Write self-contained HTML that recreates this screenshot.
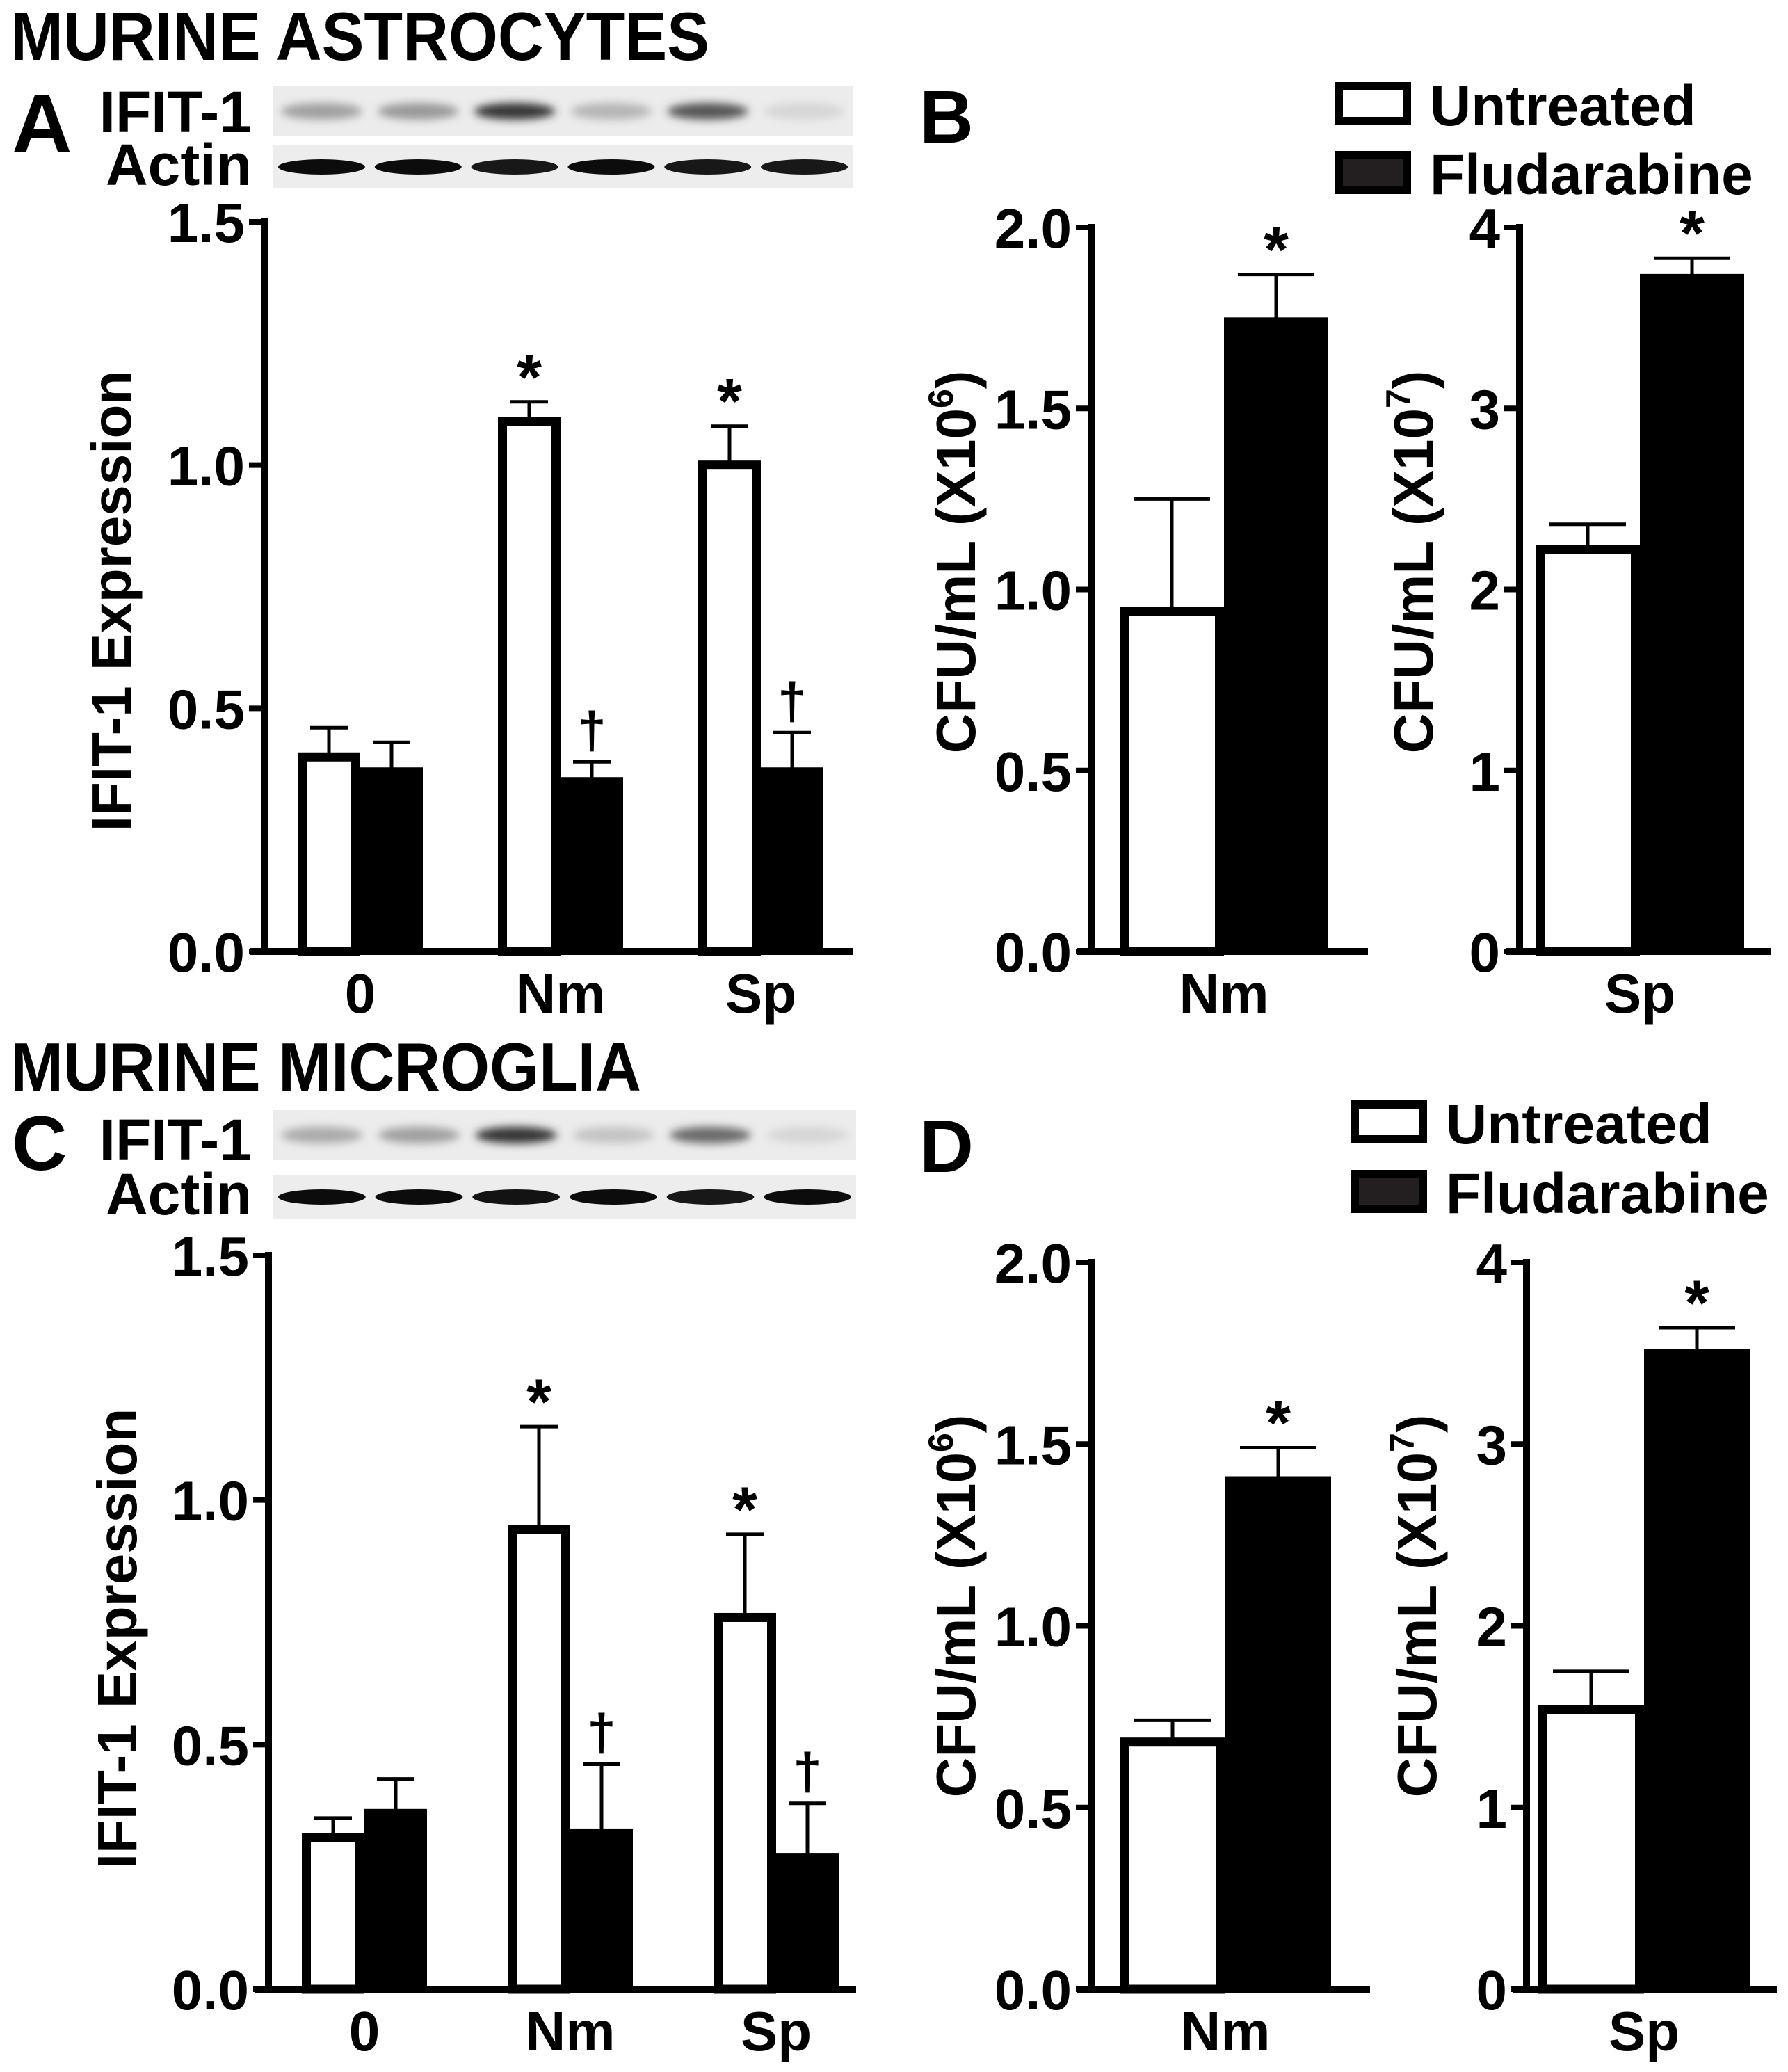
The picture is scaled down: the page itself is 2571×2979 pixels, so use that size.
<!DOCTYPE html>
<html><head><meta charset="utf-8"><style>
html,body{margin:0;padding:0;background:#fff}
svg{display:block}
text{font-family:"Liberation Sans",Arial,sans-serif;font-weight:bold;fill:#000}
</style></head><body>
<svg id="fig" xmlns="http://www.w3.org/2000/svg" width="2571" height="2979" viewBox="0 0 2571 2979">
<defs>
<filter id="blur" x="-20%" y="-50%" width="140%" height="200%"><feGaussianBlur stdDeviation="6"/></filter>
</defs>
<rect width="2571" height="2979" fill="#fff"/>
<text x="15" y="86" font-size="98" textLength="1005" lengthAdjust="spacingAndGlyphs" fill="#222">MURINE ASTROCYTES</text>
<text x="17" y="219" font-size="120">A</text>
<text x="1322" y="205" font-size="108">B</text>
<text x="15" y="1568" font-size="98" textLength="907" lengthAdjust="spacingAndGlyphs" fill="#222">MURINE MICROGLIA</text>
<text x="17" y="1682" font-size="110">C</text>
<text x="1322" y="1685" font-size="108">D</text>
<g id="layer"></g>
</svg>
<script>
// ---- Panel A data ----
const aCategories = ['0','Nm','Sp'];
const aUntreated = [0.40, 1.09, 1.00];
const aUntreatedErr = [0.06, 0.04, 0.08];
const aFludarabine = [0.37, 0.35, 0.37];
const aFludarabineErr = [0.06, 0.04, 0.08];
const aMarksUntreated = ['', '*', '*'];
const aMarksFludarabine = ['', '†', '†'];
// ---- Panel C data ----
const cCategories = ['0','Nm','Sp'];
const cUntreated = [0.31, 0.94, 0.76];
const cUntreatedErr = [0.04, 0.21, 0.17];
const cFludarabine = [0.36, 0.32, 0.27];
const cFludarabineErr = [0.07, 0.14, 0.11];
const cMarksUntreated = ['', '*', '*'];
const cMarksFludarabine = ['', '†', '†'];
// ---- Panel B data ----
const b1Categories = ['Nm'];
const b1Untreated = [0.94]; const b1UntreatedErr = [0.31];
const b1Fludarabine = [1.74]; const b1FludarabineErr = [0.13];
const b2Categories = ['Sp'];
const b2Untreated = [2.22]; const b2UntreatedErr = [0.14];
const b2Fludarabine = [3.72]; const b2FludarabineErr = [0.11];
// ---- Panel D data ----
const d1Categories = ['Nm'];
const d1Untreated = [0.68]; const d1UntreatedErr = [0.06];
const d1Fludarabine = [1.40]; const d1FludarabineErr = [0.09];
const d2Categories = ['Sp'];
const d2Untreated = [1.54]; const d2UntreatedErr = [0.21];
const d2Fludarabine = [3.50]; const d2FludarabineErr = [0.14];
const singleMarksU = [''];
const singleMarksF = ['*'];
// ---- ticks ----
const exprTicks = [0, 0.5, 1.0, 1.5];
const exprTickLabels = ['0.0','0.5','1.0','1.5'];
const cfu6Ticks = [0, 0.5, 1.0, 1.5, 2.0];
const cfu6TickLabels = ['0.0','0.5','1.0','1.5','2.0'];
const cfu7Ticks = [0, 1, 2, 3, 4];
const cfu7TickLabels = ['0','1','2','3','4'];
// ---- blot intensities ----
const blotIfitTop = [0.35, 0.38, 0.85, 0.25, 0.7, 0.1];
const blotActinTop = [0.95, 0.95, 0.9, 0.95, 0.9, 0.9];
const blotIfitBottom = [0.3, 0.35, 0.85, 0.18, 0.6, 0.1];
const blotActinBottom = [0.95, 0.95, 0.92, 0.95, 0.9, 0.95];

const NS = 'http://www.w3.org/2000/svg';
const layer = document.getElementById('layer');
function mk(tag, attrs, parent) {
  const e = document.createElementNS(NS, tag);
  for (const k in attrs) e.setAttribute(k, attrs[k]);
  (parent || layer).appendChild(e);
  return e;
}

function chart(p) {
  const g = mk('g', {});
  
  
  const y = v => p.yBottom - (v / p.max) * (p.yBottom - p.yTop);
  const ya = mk('line', {x1:p.xAxis, y1:p.yTop - 5, x2:p.xAxis, y2:p.yBottom + 5, stroke:'#000', 'stroke-width':10}, g);
  
  
  const xa = mk('line', {x1:p.xAxis - 20, y1:p.yBottom, x2:p.xRight, y2:p.yBottom, stroke:'#000', 'stroke-width':10}, g);
  
  
  p.ticks.forEach((t, i) => {
    const ty = y(t);
    const tl = mk('line', {x1:p.xAxis - 22, y1:ty, x2:p.xAxis, y2:ty, stroke:'#000', 'stroke-width':8}, g);
    
    
    const tt = mk('text', {x:p.xAxis - 28, y:ty + 29, 'font-size':80, 'text-anchor':'end'}, g);
    
    
    tt.textContent = p.tickLabels[i];
  });
  const yt = mk('text', {x:0, y:0, 'font-size':80, 'text-anchor':'middle', transform:`translate(${p.titleX},${p.titleY}) rotate(-90)`}, g);
  
  
  if (p.sup) {
    yt.appendChild(document.createTextNode(p.title));
    const s = mk('tspan', {'font-size':50, dy:-32}, yt);
    s.textContent = p.sup;
    const c = mk('tspan', {dy:32}, yt);
    c.textContent = ')';
  } else yt.textContent = p.title;
  p.cats.forEach((cat, i) => {
    const cx = p.first + p.step * i;
    const bw = p.bw;
    const sw = 13;
    const uTop = y(p.u[i]);
    const ub = mk('rect', {x:cx - bw + sw / 2, y:uTop, width:bw - sw, height:p.yBottom - uTop, fill:'#fff', stroke:'#000', 'stroke-width':sw}, g);
    
    
    const fTop = y(p.f[i]);
    const fb = mk('rect', {x:cx, y:fTop - 6, width:bw, height:p.yBottom - fTop + 6, fill:'#000'}, g);
    
    
    [[cx - bw / 2, p.u[i], p.ue[i], p.mu[i], 'untreated'], [cx + bw / 2, p.f[i], p.fe[i], p.mf[i], 'fludarabine']].forEach(([ex, v, e, m, nm]) => {
      const top = y(v + e);
      const eg = mk('g', {}, g);
      
      
      mk('line', {x1:ex, y1:y(v), x2:ex, y2:top, stroke:'#000', 'stroke-width':5}, eg);
      mk('line', {x1:ex - p.cap / 2, y1:top, x2:ex + p.cap / 2, y2:top, stroke:'#000', 'stroke-width':5}, eg);
      if (m) {
        const mt = mk('text', {x:ex, y: m === '*' ? top - 4 : top - 20, 'font-size': m === '*' ? 92 : 74, 'text-anchor':'middle'}, g);
        
        
        mt.textContent = m;
      }
    });
    const xl = mk('text', {x:cx, y:p.yBottom + 88, 'font-size':80, 'text-anchor':'middle'}, g);
    
    
    xl.textContent = cat;
  });
}

function blot(name, x, yIfit, yAct, w, ifit, act) {
  const g = mk('g', {});
  
  
  mk('rect', {x:x, y:yIfit, width:w, height:72, fill:'#ececec'}, g);
  mk('rect', {x:x, y:yAct, width:w, height:62, fill:'#ededed'}, g);
  const lw = w / 6;
  ifit.forEach((v, i) => {
    const c = Math.round(235 - v * 215);
    const b = mk('ellipse', {cx:x + lw * (i + 0.5), cy:yIfit + 36, rx:lw * 0.42, ry:12, fill:`rgb(${c},${c},${c})`, filter:'url(#blur)'}, g);
    
    
  });
  act.forEach((v, i) => {
    const c = Math.round(235 - v * 235);
    const b = mk('ellipse', {cx:x + lw * (i + 0.5), cy:yAct + 31, rx:lw * 0.45, ry:11, fill:`rgb(${c},${c},${c})`}, g);
    
    
  });
}

function rowLabels(yI, yA) {
  const t1 = mk('text', {x:362, y:yI, 'font-size':84, 'text-anchor':'end'});
  
  
  t1.textContent = 'IFIT-1';
  const t2 = mk('text', {x:362, y:yA, 'font-size':84, 'text-anchor':'end'});
  
  
  t2.textContent = 'Actin';
}

function legend(x, y1, y2) {
  const g = mk('g', {});
  
  
  const e1 = mk('rect', {x:x + 6, y:y1 - 56, width:98, height:50, fill:'#fff', stroke:'#000', 'stroke-width':12}, g);
  
  
  const e2 = mk('rect', {x:x + 6, y:y2 - 56, width:98, height:50, fill:'#231f20', stroke:'#000', 'stroke-width':12}, g);
  
  
  const t1 = mk('text', {x:x + 137, y:y1, 'font-size':82}, g);
  
  
  t1.textContent = 'Untreated';
  const t2 = mk('text', {x:x + 137, y:y2, 'font-size':82}, g);
  
  
  t2.textContent = 'Fludarabine';
}

rowLabels(190, 266);
blot('western-blot-astrocytes', 393, 124, 209, 833, blotIfitTop, blotActinTop);
chart({name:'chart-a', cats:aCategories, u:aUntreated, ue:aUntreatedErr, f:aFludarabine, fe:aFludarabineErr, mu:aMarksUntreated, mf:aMarksFludarabine,
  xAxis:380, xRight:1226, yTop:319, yBottom:1368, max:1.5, ticks:exprTicks, tickLabels:exprTickLabels, bw:90, cap:54, first:518, step:288,
  title:'IFIT-1 Expression', titleX:188, titleY:864});
legend(1919, 180, 279);
chart({name:'chart-b-nm', cats:b1Categories, u:b1Untreated, ue:b1UntreatedErr, f:b1Fludarabine, fe:b1FludarabineErr, mu:singleMarksU, mf:singleMarksF,
  xAxis:1569, xRight:1967, yTop:327, yBottom:1368, max:2.0, ticks:cfu6Ticks, tickLabels:cfu6TickLabels, bw:150, cap:110, first:1760, step:0,
  title:'CFU/mL (X10', sup:'6', titleX:1402, titleY:808});
chart({name:'chart-b-sp', cats:b2Categories, u:b2Untreated, ue:b2UntreatedErr, f:b2Fludarabine, fe:b2FludarabineErr, mu:singleMarksU, mf:singleMarksF,
  xAxis:2185, xRight:2546, yTop:327, yBottom:1368, max:4, ticks:cfu7Ticks, tickLabels:cfu7TickLabels, bw:150, cap:110, first:2358, step:0,
  title:'CFU/mL (X10', sup:'7', titleX:2060, titleY:808});
rowLabels(1668, 1746);
blot('western-blot-microglia', 393, 1596, 1690, 838, blotIfitBottom, blotActinBottom);
chart({name:'chart-c', cats:cCategories, u:cUntreated, ue:cUntreatedErr, f:cFludarabine, fe:cFludarabineErr, mu:cMarksUntreated, mf:cMarksFludarabine,
  xAxis:386, xRight:1231, yTop:1805, yBottom:2860, max:1.5, ticks:exprTicks, tickLabels:exprTickLabels, bw:90, cap:54, first:524, step:296,
  title:'IFIT-1 Expression', titleX:196, titleY:2356});
legend(1942, 1644, 1744);
chart({name:'chart-d-nm', cats:d1Categories, u:d1Untreated, ue:d1UntreatedErr, f:d1Fludarabine, fe:d1FludarabineErr, mu:singleMarksU, mf:singleMarksF,
  xAxis:1569, xRight:1970, yTop:1815, yBottom:2860, max:2.0, ticks:cfu6Ticks, tickLabels:cfu6TickLabels, bw:152, cap:110, first:1762, step:0,
  title:'CFU/mL (X10', sup:'6', titleX:1402, titleY:2309});
chart({name:'chart-d-sp', cats:d2Categories, u:d2Untreated, ue:d2UntreatedErr, f:d2Fludarabine, fe:d2FludarabineErr, mu:singleMarksU, mf:singleMarksF,
  xAxis:2195, xRight:2555, yTop:1815, yBottom:2860, max:4, ticks:cfu7Ticks, tickLabels:cfu7TickLabels, bw:152, cap:110, first:2364, step:0,
  title:'CFU/mL (X10', sup:'7', titleX:2065, titleY:2309});
</script>
</body></html>
